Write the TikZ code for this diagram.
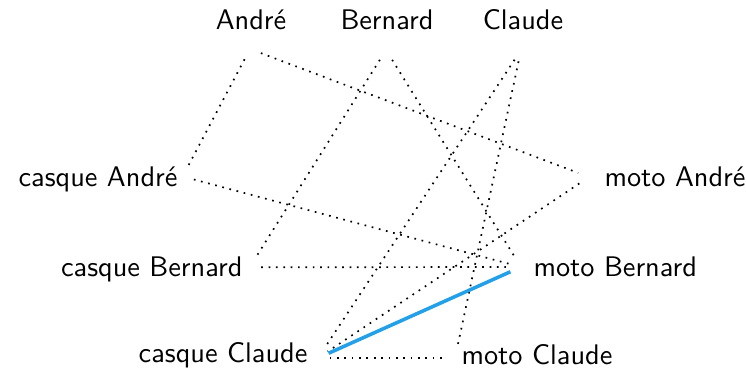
\documentclass[tikz,border=0pt]{standalone}
\definecolor{cSure}{HTML}{24A0E8}
\tikzset{
  font=\sffamily,
  who/.style={inner sep=0pt},
  pt/.style={circle, inner sep=0pt, minimum size=7.8pt},
  maybe/.style={dotted, line width=0.6pt},
  sure/.style={draw=cSure, line width=1.25pt},
}

\begin{document}
\begin{tikzpicture}[x=0.353pt, y=-0.353pt]
\useasboundingbox (0,0) rectangle (746,371);

% ------------------------------------------------------------------ owners
\node[pt] (A) at (250,49) {};
\node[pt] (B) at (386,50) {};
\node[pt] (C) at (521,50) {};
\node[who, anchor=base] (tA) at (251,30) {André};
\node[who, anchor=base] (tB) at (387,30) {Bernard};
\node[who, anchor=base] (tC) at (523,30) {Claude};

% ------------------------------------------------------------------ helmets
\node[pt] (cA) at (182.6,176.5) {};
\node[pt] (cB) at (249.6,267.3) {};
\node[pt] (cC) at (318,358) {};
\node[who, anchor=base east] (tcA) at (178,187) {casque André};
\node[who, anchor=base east] (tcB) at (243,277) {casque Bernard};
\node[who, anchor=base east] (tcC) at (308,363) {casque Claude};

% ------------------------------------------------------------------ bikes
\node[pt] (mA) at (589,177) {};
\node[pt] (mB) at (521,267) {};
\node[pt] (mC) at (455,358) {};
\node[who, anchor=base west] (tmA) at (604,187) {moto André};
\node[who, anchor=base west] (tmB) at (533,277) {moto Bernard};
\node[who, anchor=base west] (tmC) at (461,365) {moto Claude};

% ------------------------------------------------------------------ links
\draw[maybe] (A) -- (cA);
\draw[maybe] (A) -- (mA);
\draw[maybe] (B) -- (cB);
\draw[maybe] (B) -- (mB);
\draw[maybe] (C) -- (cC);
\draw[maybe] (C) -- (mC);
\draw[maybe] (cA) -- (mB);
\draw[maybe] (cB) -- (mB);
\draw[maybe] (mA) -- (cC);
\draw[maybe] (cC) -- (mC);
\draw[sure] (cC) -- (mB);

\end{tikzpicture}
\end{document}
